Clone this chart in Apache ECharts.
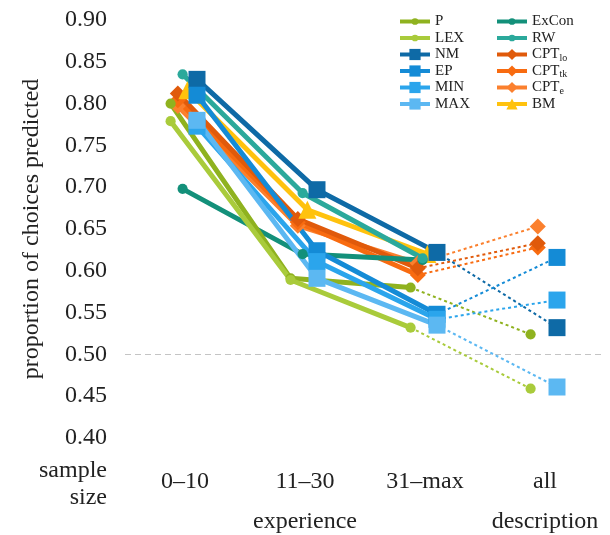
<!DOCTYPE html>
<html>
<head>
<meta charset="utf-8">
<script src="https://cdn.jsdelivr.net/npm/echarts@6/dist/echarts.min.js"></script>
<style>
  html, body { margin: 0; padding: 0; background: #fff; }
  #main { width: 610px; height: 535px; }
</style>
</head>
<body>
<div id="main"></div>
<script>
// chart values
const categories = ['0–10', '11–30', '31–max', 'all'];
const yTicks = [0.40, 0.45, 0.50, 0.55, 0.60, 0.65, 0.70, 0.75, 0.80, 0.85, 0.90];

const P     = [0.800, 0.591, 0.580, 0.524];
const LEX   = [0.779, 0.589, 0.532, 0.459];
const NM    = [0.829, 0.697, 0.622, 0.532];
const EP    = [0.810, 0.624, 0.548, 0.616];
const MIN   = [0.773, 0.611, 0.542, 0.565];
const MAX   = [0.780, 0.591, 0.535, 0.461];
const ExCon = [0.698, 0.620, 0.613, null];
const RW    = [0.835, 0.693, 0.615, null];
const CPTlo = [0.812, 0.662, 0.603, 0.633];
const CPTtk = [0.804, 0.658, 0.595, 0.628];
const CPTe  = [0.797, 0.654, 0.609, 0.653];
const BM    = [0.816, 0.673, 0.620, null];

const font = 'Liberation Serif';
const axisFont = '24px "Liberation Serif"';

// circle with empty margin, so the legend dot comes out smaller than the squares
const dot = 'path://M0,0M10,10M2,5A3,3,0,1,1,8,5A3,3,0,1,1,2,5Z';

// name, values, colour, symbol, size, horizontal dodge
const models = [
    ['CPTe',  CPTe,  '#fb802e', 'diamond',  16, -0.06],
    ['CPTtk', CPTtk, '#f86b10', 'diamond',  16, -0.06],
    ['CPTlo', CPTlo, '#e05a0b', 'diamond',  16, -0.06],
    ['BM',    BM,    '#ffc20e', 'triangle', 18,  0.02],
    ['ExCon', ExCon, '#13907a', dot,        17, -0.02],
    ['RW',    RW,    '#2ba99b', dot,        17, -0.02],
    ['P',     P,     '#8fb21f', dot,        17, -0.12],
    ['LEX',   LEX,   '#a9cb3b', dot,        17, -0.12],
    ['NM',    NM,    '#0e6aa6', 'rect',     17,  0.10],
    ['EP',    EP,    '#148bd6', 'rect',     17,  0.10],
    ['MIN',   MIN,   '#2ba5ec', 'rect',     17,  0.10],
    ['MAX',   MAX,   '#5cb8f2', 'rect',     17,  0.10]
];

let series = [];
models.forEach(function (m, k) {
    let name = m[0], vals = m[1], color = m[2], sym = m[3], size = m[4], dx = m[5];
    // experience part, solid
    let solid = [];
    for (let i = 0; i < 3; i++) solid.push([i + dx, vals[i]]);
    series.push({
        name: name,
        type: 'line',
        data: solid,
        symbol: sym,
        symbolSize: size,
        showAllSymbol: true,
        color: color,
        lineStyle: { width: 5, color: color },
        itemStyle: { color: color },
        markLine: k === 0 ? {
            silent: true,
            symbol: 'none',
            label: { show: false },
            lineStyle: { color: '#c4c4c4', width: 1.2, type: [6, 4] },
            data: [{ yAxis: 0.5 }],
            z: 0
        } : undefined
    });
    // description part, dotted
    if (vals[3] !== null) {
        series.push({
            name: name + '-desc',
            type: 'line',
            data: [
                { value: [2 + dx, vals[2]], symbol: 'none' },
                { value: [3 + dx, vals[3]] }
            ],
            symbol: sym,
            symbolSize: size,
            color: color,
            lineStyle: { width: 2, color: color, type: [3, 3] },
            itemStyle: { color: color }
        });
    }
});

const subs = { CPTlo: 'lo', CPTtk: 'tk', CPTe: 'e' };

// every row gets a subscript part so all rows are the same height
function legendName(name) {
    if (subs[name]) return '{m|CPT}{s|' + subs[name] + '}';
    return '{m|' + name + '}{s| }';
}

const legendText = {
    fontFamily: font,
    fontSize: 15,
    color: '#222',
    rich: {
        m: { fontFamily: font, fontSize: 15, color: '#222', lineHeight: 14 },
        s: { fontFamily: font, fontSize: 10, color: '#222', verticalAlign: 'top', padding: [7, 0, 0, 0] }
    }
};

function makeLegend(names, left) {
    return {
        data: names,
        orient: 'vertical',
        left: left,
        top: 14,
        padding: 0,
        itemWidth: 30,
        itemHeight: 14,
        itemGap: 0.5,
        selectedMode: false,
        formatter: legendName,
        lineStyle: { width: 4 },
        textStyle: legendText
    };
}

let myChart = echarts.init(document.getElementById('main'));

let option = {
    animation: false,
    backgroundColor: '#fff',
    legend: [
        makeLegend(['P', 'LEX', 'NM', 'EP', 'MIN', 'MAX'], 398),
        makeLegend(['ExCon', 'RW', 'CPTlo', 'CPTtk', 'CPTe', 'BM'], 495)
    ],
    grid: { left: 125, right: 5, top: 20, bottom: 97 },
    xAxis: {
        type: 'value',
        min: -0.5,
        max: 3.5,
        axisLine: { show: false },
        axisTick: { show: false },
        splitLine: { show: false },
        axisLabel: {
            customValues: [0, 1, 2, 3],
            formatter: function (v) { return categories[Math.round(v)]; },
            fontFamily: font,
            fontSize: 24,
            color: '#222',
            margin: 32
        }
    },
    yAxis: {
        type: 'value',
        min: yTicks[0],
        max: yTicks[yTicks.length - 1],
        interval: 0.05,
        name: 'proportion of choices predicted',
        nameLocation: 'middle',
        nameGap: 81,
        nameTextStyle: { fontFamily: font, fontSize: 24, color: '#222' },
        axisLine: { show: false },
        axisTick: { show: false },
        splitLine: { show: false },
        axisLabel: {
            formatter: function (v) { return v.toFixed(2); },
            fontFamily: font,
            fontSize: 24,
            color: '#222',
            margin: 18
        }
    },
    graphic: [
        { type: 'text', x: 107, y: 471, style: { text: 'sample', font: axisFont, fill: '#222', align: 'right', verticalAlign: 'middle' } },
        { type: 'text', x: 107, y: 498, style: { text: 'size', font: axisFont, fill: '#222', align: 'right', verticalAlign: 'middle' } },
        { type: 'text', x: 305, y: 522, style: { text: 'experience', font: axisFont, fill: '#222', align: 'center', verticalAlign: 'middle' } },
        { type: 'text', x: 545, y: 522, style: { text: 'description', font: axisFont, fill: '#222', align: 'center', verticalAlign: 'middle' } }
    ],
    series: series
};

myChart.setOption(option);
</script>
</body>
</html>
